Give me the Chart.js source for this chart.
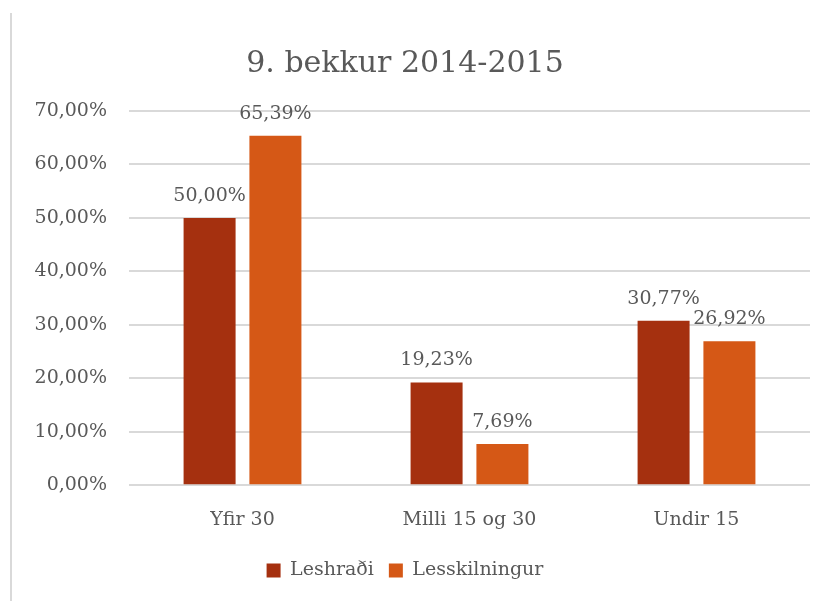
<!DOCTYPE html>
<html>
<head>
<meta charset="utf-8">
<script src="https://cdn.jsdelivr.net/npm/chart.js@4"></script>
<style>
  html, body { margin: 0; padding: 0; background: #fff; }
  #wrap { position: relative; width: 828px; height: 601px; }
  #edge { position: absolute; left: 10px; top: 13px; width: 2px; height: 588px; background: #d9d9d9; }
  canvas { position: absolute; left: 0; top: 0; }
</style>
</head>
<body>
<div id="wrap">
  <div id="edge"></div>
  <canvas id="chart-bar" width="828" height="601"></canvas>
</div>
<script>
// chart data
const categories = ['Yfir 30', 'Milli 15 og 30', 'Undir 15'];
const seriesNames = ['Leshraði', 'Lesskilningur'];
const leshradi = [50.00, 19.23, 30.77];
const lesskilningur = [65.39, 7.69, 26.92];
const yTicks = [0, 10, 20, 30, 40, 50, 60, 70];

const textColor = '#595959';
const serif = "'DejaVu Serif', 'Liberation Serif', serif";

function pct(v) {
  return v.toFixed(2).replace('.', ',') + '%';
}

// value labels above each bar
const barLabels = {
  id: 'barLabels',
  afterDatasetsDraw(chart) {
    const ctx = chart.ctx;
    ctx.save();
    ctx.font = '19px ' + serif;
    ctx.fillStyle = textColor;
    ctx.textAlign = 'center';
    ctx.textBaseline = 'alphabetic';
    chart.data.datasets.forEach((ds, i) => {
      chart.getDatasetMeta(i).data.forEach((bar, j) => {
        ctx.fillText(pct(ds.data[j]), bar.x, bar.y - 17);
      });
    });
    ctx.restore();
  }
};

const ctx = document.getElementById('chart-bar').getContext('2d');
new Chart(ctx, {
  type: 'bar',
  data: {
    labels: categories,
    datasets: [
      {
        label: seriesNames[0],
        data: leshradi,
        backgroundColor: '#a5300f',
        barPercentage: 0.79,
        categoryPercentage: 0.58
      },
      {
        label: seriesNames[1],
        data: lesskilningur,
        backgroundColor: '#d55816',
        barPercentage: 0.79,
        categoryPercentage: 0.58
      }
    ]
  },
  plugins: [barLabels],
  options: {
    responsive: false,
    animation: false,
    events: [],
    layout: {
      padding: { left: 0, right: 18, top: 0, bottom: 11 }
    },
    plugins: {
      title: {
        display: true,
        text: '9. bekkur 2014-2015',
        color: textColor,
        font: { family: serif, size: 30, weight: 'normal' },
        padding: { top: 46, bottom: 29 }
      },
      legend: {
        position: 'bottom',
        labels: {
          color: textColor,
          font: { family: serif, size: 19 },
          boxWidth: 14,
          boxHeight: 14,
          padding: 15
        }
      },
      tooltip: { enabled: false }
    },
    scales: {
      x: {
        grid: { display: false },
        border: { display: false },
        ticks: {
          color: textColor,
          font: { family: serif, size: 19 },
          padding: 15
        }
      },
      y: {
        min: 0,
        max: 70,
        afterFit(scale) { scale.width = 129; },
        afterBuildTicks(scale) { scale.ticks = yTicks.map(v => ({ value: v })); },
        grid: { color: '#d9d9d9', lineWidth: 2, drawTicks: false },
        border: { display: false },
        ticks: {
          color: textColor,
          font: { family: serif, size: 19 },
          padding: 22,
          callback: v => pct(v)
        }
      }
    }
  }
});
</script>
</body>
</html>
